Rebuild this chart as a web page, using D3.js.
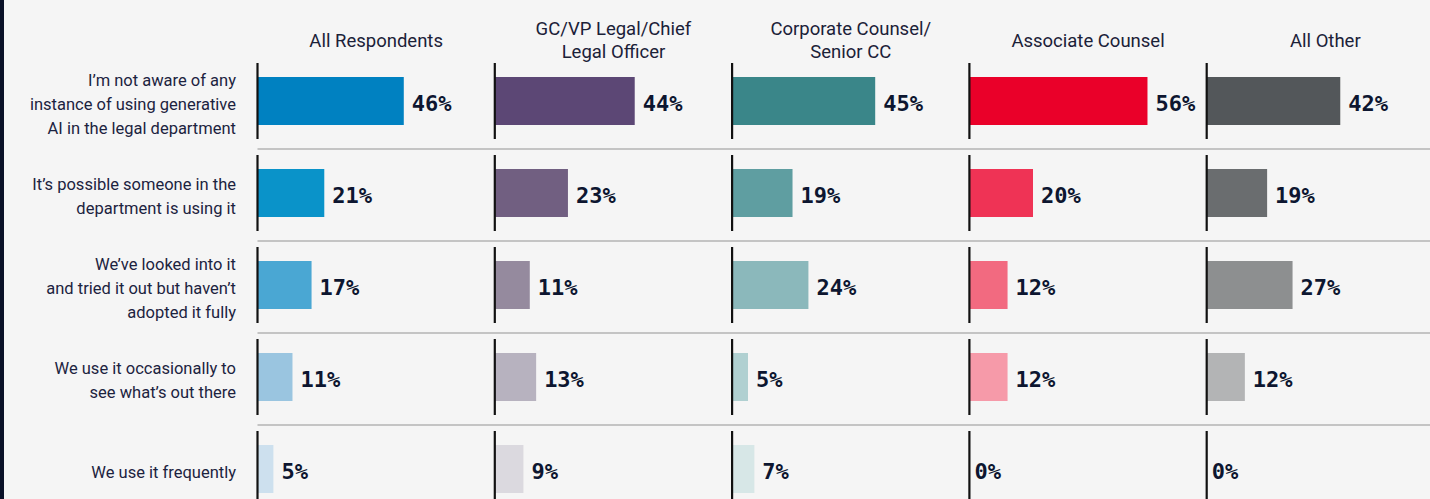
<!DOCTYPE html>
<html>
<head>
<meta charset="utf-8">
<script src="https://cdn.jsdelivr.net/npm/d3@7"></script>
<style>
  html, body { margin: 0; padding: 0; background: #f5f5f5; }
  svg { display: block; }
</style>
</head>
<body>
<svg id="chart" width="1430" height="499"></svg>
<script>
// ---- data ----
const groups = ["All Respondents", "GC/VP Legal/Chief Legal Officer", "Corporate Counsel/ Senior CC", "Associate Counsel", "All Other"];
const groupLines = [["All Respondents"], ["GC/VP Legal/Chief", "Legal Officer"], ["Corporate Counsel/", "Senior CC"], ["Associate Counsel"], ["All Other"]];
const categories = [
  "I’m not aware of any instance of using generative AI in the legal department",
  "It’s possible someone in the department is using it",
  "We’ve looked into it and tried it out but haven’t adopted it fully",
  "We use it occasionally to see what’s out there",
  "We use it frequently"
];
const categoryLines = [
  ["I’m not aware of any", "instance of using generative", "AI in the legal department"],
  ["It’s possible someone in the", "department is using it"],
  ["We’ve looked into it", "and tried it out but haven’t", "adopted it fully"],
  ["We use it occasionally to", "see what’s out there"],
  ["We use it frequently"]
];
const allRespondents = [46, 21, 17, 11, 5];
const gcLegal = [44, 23, 11, 13, 9];
const corporateCounsel = [45, 19, 24, 5, 7];
const associateCounsel = [56, 20, 12, 12, 0];
const allOther = [42, 19, 27, 12, 0];
const seriesValues = [allRespondents, gcLegal, corporateCounsel, associateCounsel, allOther];
const palettes = [
  ["#0081c1", "#0a93c9", "#4aa7d3", "#9ac5e0", "#cde0ee"],
  ["#5c4775", "#715f81", "#958a9e", "#b7b2bf", "#dbd9df"],
  ["#3a8689", "#5f9ea1", "#8bb8bb", "#b0d0d1", "#d7e7e7"],
  ["#ea0029", "#ef3355", "#f26a80", "#f69aa9", "#fbcdd4"],
  ["#53575a", "#6a6d6f", "#8d8f90", "#b3b4b5", "#d9dada"]
];

// ---- layout ----
const svg = d3.select("#chart");
const W = 1430, H = 499;

svg.append("rect").attr("x", 0).attr("y", 0).attr("width", W).attr("height", H).attr("fill", "#f5f5f5");
svg.append("rect").attr("x", 0).attr("y", 0).attr("width", 4).attr("height", H).attr("fill", "#0a1128");

const panelStart = 257.5, panelW = 237.3;
const xGroup = d3.scaleBand().domain(groups).range([panelStart, panelStart + panelW * groups.length]).padding(0);
const rowH = 92;
const yRow = d3.scaleBand().domain(categories).range([55, 55 + rowH * categories.length]).padding(0);
const x = d3.scaleLinear().domain([0, 100]).range([0, 318]);

const barH = 48;
const cyOf = c => yRow(c) + yRow.bandwidth() / 2;

// separators
svg.selectAll("line.sep").data(categories.slice(0, -1)).join("line")
  .attr("class", "sep")
  .attr("x1", panelStart).attr("x2", W)
  .attr("y1", d => yRow(d) + yRow.bandwidth() + 2)
  .attr("y2", d => yRow(d) + yRow.bandwidth() + 2)
  .attr("stroke", "#c4c4c4").attr("stroke-width", 2);

// header labels
const hdr = svg.selectAll("text.hdr").data(groups).join("text")
  .attr("class", "hdr")
  .attr("text-anchor", "middle")
  .attr("font-family", "Roboto, sans-serif")
  .attr("font-size", 18.5)
  .attr("fill", "#1b2138");
hdr.each(function(d, i) {
  const lines = groupLines[i];
  const cx = xGroup(d) + xGroup.bandwidth() / 2;
  const lh = 23;
  const base = 46.5 - (lines.length - 1) * lh / 2;
  d3.select(this).selectAll("tspan").data(lines).join("tspan")
    .attr("x", cx).attr("y", (l, j) => base + j * lh).text(l => l);
});

// row labels
const rl = svg.selectAll("text.rowlab").data(categories).join("text")
  .attr("class", "rowlab")
  .attr("text-anchor", "end")
  .attr("font-family", "Roboto, sans-serif")
  .attr("font-size", 16.5)
  .attr("fill", "#1c2340");
rl.each(function(d, i) {
  const lines = categoryLines[i];
  const cy = cyOf(d);
  const lh = 24;
  const base = cy + 9 - (lines.length - 1) * lh / 2;
  d3.select(this).selectAll("tspan").data(lines).join("tspan")
    .attr("x", 236).attr("y", (l, j) => base + j * lh).text(l => l);
});

// panels
groups.forEach((g, gi) => {
  const gx = xGroup(g);
  const panel = svg.append("g").attr("transform", `translate(${gx},0)`);
  const vals = seriesValues[gi];
  panel.selectAll("rect.bar").data(categories).join("rect")
    .attr("class", "bar")
    .attr("x", 0)
    .attr("y", c => cyOf(c) - barH / 2)
    .attr("width", (c, i) => x(vals[i]))
    .attr("height", barH)
    .attr("fill", (c, i) => palettes[gi][i]);
  panel.selectAll("line.axis").data(categories).join("line")
    .attr("class", "axis")
    .attr("x1", 0).attr("x2", 0)
    .attr("y1", c => cyOf(c) - 38)
    .attr("y2", c => cyOf(c) + 38)
    .attr("stroke", "#111").attr("stroke-width", 2.2);
  panel.selectAll("text.val").data(categories).join("text")
    .attr("class", "val")
    .attr("x", (c, i) => x(vals[i]) + (vals[i] === 0 ? 5 : 8))
    .attr("y", c => cyOf(c) + 10)
    .attr("font-family", "'DejaVu Sans Mono', monospace")
    .attr("font-weight", "bold")
    .attr("font-size", 22)
    .attr("fill", "#0d1630")
    .text((c, i) => vals[i] + "%");
});
</script>
</body>
</html>
